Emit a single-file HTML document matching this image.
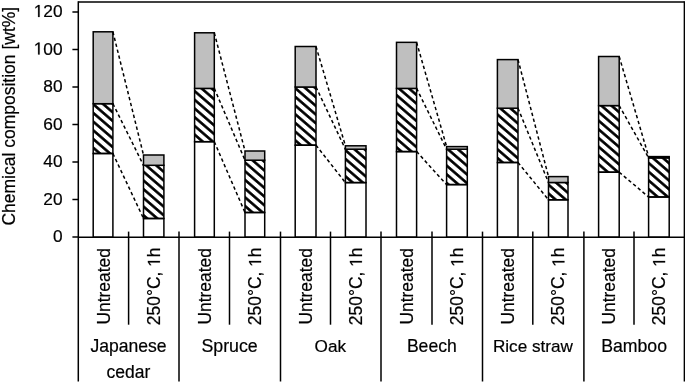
<!DOCTYPE html><html><head><meta charset="utf-8"><style>
html,body{margin:0;padding:0;background:#fff;width:685px;height:383px;overflow:hidden}
svg{display:block}#w{width:685px;height:383px;filter:grayscale(1)}
text{font-family:"Liberation Sans",sans-serif;font-size:17px;fill:#000;stroke:#000;stroke-width:0.2px}
</style></head><body><div id="w">
<svg width="685" height="383" viewBox="0 0 685 383">
<defs><pattern id="h0" patternUnits="userSpaceOnUse" width="30" height="8.7" patternTransform="translate(93.2,112.9) skewY(40.7)"><rect x="-5" y="-1.75" width="40" height="3.5" fill="#000"/><rect x="-5" y="6.95" width="40" height="3.5" fill="#000"/></pattern><pattern id="h1" patternUnits="userSpaceOnUse" width="30" height="8.7" patternTransform="translate(143.5,171.8) skewY(40.7)"><rect x="-5" y="-1.75" width="40" height="3.5" fill="#000"/><rect x="-5" y="6.95" width="40" height="3.5" fill="#000"/></pattern><pattern id="h2" patternUnits="userSpaceOnUse" width="30" height="8.7" patternTransform="translate(194.6,91.1) skewY(40.7)"><rect x="-5" y="-1.75" width="40" height="3.5" fill="#000"/><rect x="-5" y="6.95" width="40" height="3.5" fill="#000"/></pattern><pattern id="h3" patternUnits="userSpaceOnUse" width="30" height="8.7" patternTransform="translate(245,162.5) skewY(40.7)"><rect x="-5" y="-1.75" width="40" height="3.5" fill="#000"/><rect x="-5" y="6.95" width="40" height="3.5" fill="#000"/></pattern><pattern id="h4" patternUnits="userSpaceOnUse" width="30" height="8.7" patternTransform="translate(295.2,88.1) skewY(40.7)"><rect x="-5" y="-1.75" width="40" height="3.5" fill="#000"/><rect x="-5" y="6.95" width="40" height="3.5" fill="#000"/></pattern><pattern id="h5" patternUnits="userSpaceOnUse" width="30" height="8.7" patternTransform="translate(345.4,150.2) skewY(40.7)"><rect x="-5" y="-1.75" width="40" height="3.5" fill="#000"/><rect x="-5" y="6.95" width="40" height="3.5" fill="#000"/></pattern><pattern id="h6" patternUnits="userSpaceOnUse" width="30" height="8.7" patternTransform="translate(396.5,86.4) skewY(40.7)"><rect x="-5" y="-1.75" width="40" height="3.5" fill="#000"/><rect x="-5" y="6.95" width="40" height="3.5" fill="#000"/></pattern><pattern id="h7" patternUnits="userSpaceOnUse" width="30" height="8.7" patternTransform="translate(446.6,148.2) skewY(40.7)"><rect x="-5" y="-1.75" width="40" height="3.5" fill="#000"/><rect x="-5" y="6.95" width="40" height="3.5" fill="#000"/></pattern><pattern id="h8" patternUnits="userSpaceOnUse" width="30" height="8.7" patternTransform="translate(497.4,105.8) skewY(40.7)"><rect x="-5" y="-1.75" width="40" height="3.5" fill="#000"/><rect x="-5" y="6.95" width="40" height="3.5" fill="#000"/></pattern><pattern id="h9" patternUnits="userSpaceOnUse" width="30" height="8.7" patternTransform="translate(548.5,184.8) skewY(40.7)"><rect x="-5" y="-1.75" width="40" height="3.5" fill="#000"/><rect x="-5" y="6.95" width="40" height="3.5" fill="#000"/></pattern><pattern id="h10" patternUnits="userSpaceOnUse" width="30" height="8.7" patternTransform="translate(598.6,103.25) skewY(40.7)"><rect x="-5" y="-1.75" width="40" height="3.5" fill="#000"/><rect x="-5" y="6.95" width="40" height="3.5" fill="#000"/></pattern><pattern id="h11" patternUnits="userSpaceOnUse" width="30" height="8.7" patternTransform="translate(648.6,163) skewY(40.7)"><rect x="-5" y="-1.75" width="40" height="3.5" fill="#000"/><rect x="-5" y="6.95" width="40" height="3.5" fill="#000"/></pattern></defs>
<rect width="685" height="383" fill="#fff"/>
<rect x="93.2" y="153.5" width="19.7" height="83.7" fill="#fff" stroke="#000" stroke-width="1.5"/>
<rect x="93.2" y="103.7" width="19.7" height="49.8" fill="url(#h0)" stroke="#000" stroke-width="1.5"/>
<rect x="93.2" y="31.8" width="19.7" height="71.9" fill="#bfbfbf" stroke="#000" stroke-width="1.5"/>
<rect x="143.5" y="218.5" width="20.4" height="18.7" fill="#fff" stroke="#000" stroke-width="1.5"/>
<rect x="143.5" y="165.3" width="20.4" height="53.2" fill="url(#h1)" stroke="#000" stroke-width="1.5"/>
<rect x="143.5" y="155" width="20.4" height="10.3" fill="#bfbfbf" stroke="#000" stroke-width="1.5"/>
<rect x="194.6" y="141.7" width="19.7" height="95.5" fill="#fff" stroke="#000" stroke-width="1.5"/>
<rect x="194.6" y="88.4" width="19.7" height="53.3" fill="url(#h2)" stroke="#000" stroke-width="1.5"/>
<rect x="194.6" y="32.8" width="19.7" height="55.6" fill="#bfbfbf" stroke="#000" stroke-width="1.5"/>
<rect x="245" y="212.5" width="19.7" height="24.7" fill="#fff" stroke="#000" stroke-width="1.5"/>
<rect x="245" y="160.2" width="19.7" height="52.3" fill="url(#h3)" stroke="#000" stroke-width="1.5"/>
<rect x="245" y="151" width="19.7" height="9.2" fill="#bfbfbf" stroke="#000" stroke-width="1.5"/>
<rect x="295.2" y="145.2" width="20.8" height="92" fill="#fff" stroke="#000" stroke-width="1.5"/>
<rect x="295.2" y="87" width="20.8" height="58.2" fill="url(#h4)" stroke="#000" stroke-width="1.5"/>
<rect x="295.2" y="46.5" width="20.8" height="40.5" fill="#bfbfbf" stroke="#000" stroke-width="1.5"/>
<rect x="345.4" y="182.6" width="20.6" height="54.6" fill="#fff" stroke="#000" stroke-width="1.5"/>
<rect x="345.4" y="149.2" width="20.6" height="33.4" fill="url(#h5)" stroke="#000" stroke-width="1.5"/>
<rect x="345.4" y="145.8" width="20.6" height="3.4" fill="#bfbfbf" stroke="#000" stroke-width="1.5"/>
<rect x="396.5" y="151.6" width="20.1" height="85.6" fill="#fff" stroke="#000" stroke-width="1.5"/>
<rect x="396.5" y="88.4" width="20.1" height="63.2" fill="url(#h6)" stroke="#000" stroke-width="1.5"/>
<rect x="396.5" y="42.35" width="20.1" height="46.05" fill="#bfbfbf" stroke="#000" stroke-width="1.5"/>
<rect x="446.6" y="184.6" width="20.7" height="52.6" fill="#fff" stroke="#000" stroke-width="1.5"/>
<rect x="446.6" y="149.2" width="20.7" height="35.4" fill="url(#h7)" stroke="#000" stroke-width="1.5"/>
<rect x="446.6" y="146.6" width="20.7" height="2.6" fill="#bfbfbf" stroke="#000" stroke-width="1.5"/>
<rect x="497.4" y="162.5" width="20.6" height="74.7" fill="#fff" stroke="#000" stroke-width="1.5"/>
<rect x="497.4" y="108.2" width="20.6" height="54.3" fill="url(#h8)" stroke="#000" stroke-width="1.5"/>
<rect x="497.4" y="59.6" width="20.6" height="48.6" fill="#bfbfbf" stroke="#000" stroke-width="1.5"/>
<rect x="548.5" y="199.8" width="19.5" height="37.4" fill="#fff" stroke="#000" stroke-width="1.5"/>
<rect x="548.5" y="182.5" width="19.5" height="17.3" fill="url(#h9)" stroke="#000" stroke-width="1.5"/>
<rect x="548.5" y="176.6" width="19.5" height="5.9" fill="#bfbfbf" stroke="#000" stroke-width="1.5"/>
<rect x="598.6" y="172.2" width="20.6" height="65" fill="#fff" stroke="#000" stroke-width="1.5"/>
<rect x="598.6" y="105.6" width="20.6" height="66.6" fill="url(#h10)" stroke="#000" stroke-width="1.5"/>
<rect x="598.6" y="56.5" width="20.6" height="49.1" fill="#bfbfbf" stroke="#000" stroke-width="1.5"/>
<rect x="648.6" y="197" width="20.6" height="40.2" fill="#fff" stroke="#000" stroke-width="1.5"/>
<rect x="648.6" y="157.9" width="20.6" height="39.1" fill="url(#h11)" stroke="#000" stroke-width="1.5"/>
<rect x="648.6" y="156.6" width="20.6" height="1.3" fill="#bfbfbf" stroke="#000" stroke-width="1.5"/>
<line x1="112.9" y1="31.8" x2="143.5" y2="155" stroke="#000" stroke-width="1.5" stroke-dasharray="3.4 2.7"/>
<line x1="112.9" y1="103.7" x2="143.5" y2="165.3" stroke="#000" stroke-width="1.5" stroke-dasharray="3.4 2.7"/>
<line x1="112.9" y1="153.5" x2="143.5" y2="218.5" stroke="#000" stroke-width="1.5" stroke-dasharray="3.4 2.7"/>
<line x1="214.3" y1="32.8" x2="245" y2="151" stroke="#000" stroke-width="1.5" stroke-dasharray="3.4 2.7"/>
<line x1="214.3" y1="88.4" x2="245" y2="160.2" stroke="#000" stroke-width="1.5" stroke-dasharray="3.4 2.7"/>
<line x1="214.3" y1="141.7" x2="245" y2="212.5" stroke="#000" stroke-width="1.5" stroke-dasharray="3.4 2.7"/>
<line x1="316" y1="46.5" x2="345.4" y2="145.8" stroke="#000" stroke-width="1.5" stroke-dasharray="3.4 2.7"/>
<line x1="316" y1="87" x2="345.4" y2="149.2" stroke="#000" stroke-width="1.5" stroke-dasharray="3.4 2.7"/>
<line x1="316" y1="145.2" x2="345.4" y2="182.6" stroke="#000" stroke-width="1.5" stroke-dasharray="3.4 2.7"/>
<line x1="416.6" y1="42.35" x2="446.6" y2="146.6" stroke="#000" stroke-width="1.5" stroke-dasharray="3.4 2.7"/>
<line x1="416.6" y1="88.4" x2="446.6" y2="149.2" stroke="#000" stroke-width="1.5" stroke-dasharray="3.4 2.7"/>
<line x1="416.6" y1="151.6" x2="446.6" y2="184.6" stroke="#000" stroke-width="1.5" stroke-dasharray="3.4 2.7"/>
<line x1="518" y1="59.6" x2="548.5" y2="176.6" stroke="#000" stroke-width="1.5" stroke-dasharray="3.4 2.7"/>
<line x1="518" y1="108.2" x2="548.5" y2="182.5" stroke="#000" stroke-width="1.5" stroke-dasharray="3.4 2.7"/>
<line x1="518" y1="162.5" x2="548.5" y2="199.8" stroke="#000" stroke-width="1.5" stroke-dasharray="3.4 2.7"/>
<line x1="619.2" y1="56.5" x2="648.6" y2="156.6" stroke="#000" stroke-width="1.5" stroke-dasharray="3.4 2.7"/>
<line x1="619.2" y1="105.6" x2="648.6" y2="157.9" stroke="#000" stroke-width="1.5" stroke-dasharray="3.4 2.7"/>
<line x1="619.2" y1="172.2" x2="648.6" y2="197" stroke="#000" stroke-width="1.5" stroke-dasharray="3.4 2.7"/>
<g stroke="#000" stroke-width="1.5" fill="none">
<line x1="78.3" y1="2.1" x2="684.4" y2="2.1"/>
<line x1="684.4" y1="1.35" x2="684.4" y2="381.5"/>
<line x1="78.3" y1="1.35" x2="78.3" y2="381.5"/>
<line x1="78.3" y1="237.2" x2="684.4" y2="237.2"/>
<line x1="72.4" y1="237" x2="78.3" y2="237"/>
<line x1="72.4" y1="199.5" x2="78.3" y2="199.5"/>
<line x1="72.4" y1="162" x2="78.3" y2="162"/>
<line x1="72.4" y1="124.5" x2="78.3" y2="124.5"/>
<line x1="72.4" y1="87" x2="78.3" y2="87"/>
<line x1="72.4" y1="49.5" x2="78.3" y2="49.5"/>
<line x1="72.4" y1="12" x2="78.3" y2="12"/>
<line x1="179" y1="231.6" x2="179" y2="381.5"/>
<line x1="280.5" y1="231.6" x2="280.5" y2="381.5"/>
<line x1="381" y1="231.6" x2="381" y2="381.5"/>
<line x1="482.5" y1="231.6" x2="482.5" y2="381.5"/>
<line x1="583.9" y1="231.6" x2="583.9" y2="381.5"/>
<line x1="128.6" y1="231.6" x2="128.6" y2="324.7"/>
<line x1="229.5" y1="231.6" x2="229.5" y2="324.7"/>
<line x1="330.5" y1="231.6" x2="330.5" y2="324.7"/>
<line x1="432" y1="231.6" x2="432" y2="324.7"/>
<line x1="532.8" y1="231.6" x2="532.8" y2="324.7"/>
<line x1="634" y1="231.6" x2="634" y2="324.7"/>
</g>
<text x="62.6" y="242" text-anchor="end" style="font-size:17.3px">0</text>
<text x="62.6" y="204.5" text-anchor="end" style="font-size:17.3px">20</text>
<text x="62.6" y="167" text-anchor="end" style="font-size:17.3px">40</text>
<text x="62.6" y="129.5" text-anchor="end" style="font-size:17.3px">60</text>
<text x="62.6" y="92" text-anchor="end" style="font-size:17.3px">80</text>
<path d="M38.09,54.5L38.09,44.05L35.4,45.97L35.4,44.53L38.21,42.6L39.61,42.6L39.61,54.5Z" fill="#000" stroke="#000" stroke-width="0.2"/>
<text x="62.6" y="54.5" text-anchor="end" style="font-size:17.3px"> 00</text>
<path d="M38.09,17L38.09,6.55L35.4,8.47L35.4,7.03L38.21,5.1L39.61,5.1L39.61,17Z" fill="#000" stroke="#000" stroke-width="0.2"/>
<text x="62.6" y="17" text-anchor="end" style="font-size:17.3px"> 20</text>
<text transform="translate(14.9,116.2) rotate(-90)" text-anchor="middle" style="font-size:17.5px">Chemical composition [wt%]</text>
<text transform="translate(109.5,286.3) rotate(-90)" text-anchor="middle" style="font-size:17.45px">Untreated</text>
<g transform="translate(159.9,286.3) rotate(-90)">
<text x="0" y="0" text-anchor="middle" style="font-size:17.45px">250°C,  h</text>
<path d="M23.88,0L23.88,-10.54L21.17,-8.61L21.17,-10.05L24.01,-12.01L25.42,-12.01L25.42,0Z" fill="#000" stroke="#000" stroke-width="0.2"/>
</g>
<text transform="translate(210.9,286.3) rotate(-90)" text-anchor="middle" style="font-size:17.45px">Untreated</text>
<g transform="translate(261.05,286.3) rotate(-90)">
<text x="0" y="0" text-anchor="middle" style="font-size:17.45px">250°C,  h</text>
<path d="M23.88,0L23.88,-10.54L21.17,-8.61L21.17,-10.05L24.01,-12.01L25.42,-12.01L25.42,0Z" fill="#000" stroke="#000" stroke-width="0.2"/>
</g>
<text transform="translate(312.05,286.3) rotate(-90)" text-anchor="middle" style="font-size:17.45px">Untreated</text>
<g transform="translate(361.9,286.3) rotate(-90)">
<text x="0" y="0" text-anchor="middle" style="font-size:17.45px">250°C,  h</text>
<path d="M23.88,0L23.88,-10.54L21.17,-8.61L21.17,-10.05L24.01,-12.01L25.42,-12.01L25.42,0Z" fill="#000" stroke="#000" stroke-width="0.2"/>
</g>
<text transform="translate(413,286.3) rotate(-90)" text-anchor="middle" style="font-size:17.45px">Untreated</text>
<g transform="translate(463.15,286.3) rotate(-90)">
<text x="0" y="0" text-anchor="middle" style="font-size:17.45px">250°C,  h</text>
<path d="M23.88,0L23.88,-10.54L21.17,-8.61L21.17,-10.05L24.01,-12.01L25.42,-12.01L25.42,0Z" fill="#000" stroke="#000" stroke-width="0.2"/>
</g>
<text transform="translate(514.15,286.3) rotate(-90)" text-anchor="middle" style="font-size:17.45px">Untreated</text>
<g transform="translate(564.45,286.3) rotate(-90)">
<text x="0" y="0" text-anchor="middle" style="font-size:17.45px">250°C,  h</text>
<path d="M23.88,0L23.88,-10.54L21.17,-8.61L21.17,-10.05L24.01,-12.01L25.42,-12.01L25.42,0Z" fill="#000" stroke="#000" stroke-width="0.2"/>
</g>
<text transform="translate(615.35,286.3) rotate(-90)" text-anchor="middle" style="font-size:17.45px">Untreated</text>
<g transform="translate(665.1,286.3) rotate(-90)">
<text x="0" y="0" text-anchor="middle" style="font-size:17.45px">250°C,  h</text>
<path d="M23.88,0L23.88,-10.54L21.17,-8.61L21.17,-10.05L24.01,-12.01L25.42,-12.01L25.42,0Z" fill="#000" stroke="#000" stroke-width="0.2"/>
</g>
<text x="128.55" y="352.2" text-anchor="middle" style="font-size:17.56px">Japanese</text>
<text x="128.45" y="378.3" text-anchor="middle" style="font-size:17.5px">cedar</text>
<text x="229.6" y="352.2" text-anchor="middle" style="font-size:17.78px">Spruce</text>
<text x="330.35" y="352.2" text-anchor="middle" style="font-size:17.17px">Oak</text>
<text x="431.8" y="352.2" text-anchor="middle" style="font-size:17.59px">Beech</text>
<text x="532.9" y="352.2" text-anchor="middle" style="font-size:17.15px">Rice straw</text>
<text x="634.1" y="352.2" text-anchor="middle" style="font-size:17.69px">Bamboo</text>
</svg></div></body></html>
